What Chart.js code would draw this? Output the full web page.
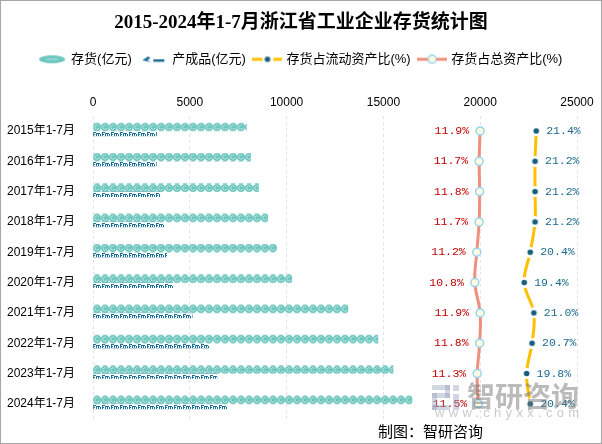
<!DOCTYPE html>
<html>
<head>
<meta charset="utf-8">
<title>2015-2024年1-7月浙江省工业企业存货统计图</title>
<script src="https://cdn.jsdelivr.net/npm/chart.js@4"></script>
<style>
    html, body { margin: 0; padding: 0; background: #fff; }
    #wrap { position: relative; width: 600px; height: 442px; border: 1px solid #A6A6A6; }
</style>
</head>
<body>
<div id="wrap"><canvas id="chartCanvas"></canvas></div>
<script>
// Chart data
const years = ["2015年1-7月", "2016年1-7月", "2017年1-7月", "2018年1-7月", "2019年1-7月",
    "2020年1-7月", "2021年1-7月", "2022年1-7月", "2023年1-7月", "2024年1-7月"];
const inventory = [7930, 8140, 8550, 9020, 9480, 10270, 13170, 14720, 15500, 16480];
const finishedGoods = [3280, 3270, 3450, 3670, 3800, 4140, 5120, 6000, 6410, 6950];
const currentRatio = [21.4, 21.2, 21.2, 21.2, 20.4, 19.4, 21.0, 20.7, 19.8, 20.4];
const totalRatio = [11.9, 11.7, 11.8, 11.7, 11.2, 10.8, 11.9, 11.8, 11.3, 11.5];
const xTicks = [0, 5000, 10000, 15000, 20000, 25000];

const legendNames = ["存货(亿元)", "产成品(亿元)", "存货占流动资产比(%)", "存货占总资产比(%)"];

const TEAL = '#6DC7BF';
const TEAL_LIGHT = '#B4E4DE';
const BLUE = '#1D6F98';
const YELLOW = '#FFC000';
const SALMON = '#EF8F7E';
const DOT = '#155E7C';

/**
 * @brief Creates a small canvas and hands its context to a painter.
 */
function makeTile(w, h, paint) {
    const c = document.createElement('canvas');
    c.width = w;
    c.height = h;
    paint(c.getContext('2d'));
    return c;
}

// Pattern tiles for the bars
const tealTile = makeTile(8, 8, g => {
    g.fillStyle = TEAL;
    g.beginPath();
    g.arc(4, 4, 4, 0, Math.PI * 2);
    g.fill();
    g.strokeStyle = TEAL_LIGHT;
    g.lineWidth = 1;
    g.beginPath();
    g.arc(4, 4, 2.2, 0.3, Math.PI * 1.7);
    g.stroke();
});

const goodsTile = makeTile(9, 6, g => {
    g.fillStyle = BLUE;
    g.fillRect(0, 1, 1, 4);
    g.fillRect(0, 1, 3, 1);
    g.fillRect(0, 3, 2, 1);
    g.fillRect(3, 2, 4, 1);
    g.fillRect(3, 2, 1, 3);
    g.fillRect(5, 2, 1, 3);
    g.fillRect(7, 3, 1, 2);
    g.fillStyle = '#6FA6C6';
    g.fillRect(0, 5, 8, 1);
});

// Point image for the current assets ratio line
const yellowDot = makeTile(11, 11, g => {
    g.fillStyle = '#fff';
    g.beginPath();
    g.arc(5.5, 5.5, 5.5, 0, Math.PI * 2);
    g.fill();
    g.fillStyle = DOT;
    g.beginPath();
    g.arc(5.5, 5.5, 2.8, 0, Math.PI * 2);
    g.fill();
});

// Legend icons
const legendIcons = [
    makeTile(28, 10, g => {
        g.fillStyle = TEAL;
        g.beginPath();
        g.ellipse(14, 5, 13, 4, 0, 0, Math.PI * 2);
        g.fill();
        g.strokeStyle = TEAL_LIGHT;
        g.lineWidth = 1;
        g.beginPath();
        g.moveTo(8, 5);
        g.lineTo(20, 5);
        g.stroke();
    }),
    makeTile(24, 8, g => {
        g.fillStyle = BLUE;
        g.beginPath();
        g.moveTo(1, 5);
        g.lineTo(7, 1);
        g.lineTo(9, 3);
        g.lineTo(6, 5);
        g.lineTo(10, 7);
        g.closePath();
        g.fill();
        g.fillRect(12, 4, 11, 2.5);
    }),
    makeTile(30, 10, g => {
        g.strokeStyle = YELLOW;
        g.lineWidth = 3;
        g.beginPath();
        g.moveTo(0, 5);
        g.lineTo(30, 5);
        g.stroke();
        g.drawImage(yellowDot, 9.5, -0.5);
    }),
    makeTile(30, 10, g => {
        g.strokeStyle = SALMON;
        g.lineWidth = 3;
        g.beginPath();
        g.moveTo(0, 5);
        g.lineTo(30, 5);
        g.stroke();
        g.fillStyle = '#FFFBE3';
        g.strokeStyle = '#97D5EE';
        g.lineWidth = 1.5;
        g.beginPath();
        g.arc(15, 5, 4, 0, Math.PI * 2);
        g.fill();
        g.stroke();
    })
];

/**
 * @brief Returns a pattern aligned to the top-left corner of the bar.
 */
function barPattern(c, tile, offset, fallback) {
    if (c.type !== 'data' || !c.chart.chartArea) {
        return fallback;
    }
    const yScale = c.chart.scales.y;
    const top = Math.round(yScale.getPixelForValue(c.dataIndex) + offset);
    const pattern = c.chart.ctx.createPattern(tile, 'repeat');
    pattern.setTransform(new DOMMatrix([1, 0, 0, 1, c.chart.chartArea.left, top]));
    return pattern;
}

// Value labels next to the line points
const valueLabels = {
    id: 'valueLabels',
    afterDatasetsDraw(chart) {
        const ctx = chart.ctx;
        ctx.save();
        ctx.font = '11.5px "Liberation Mono", monospace';
        ctx.textBaseline = 'middle';

        ctx.fillStyle = '#1C6A8C';
        ctx.textAlign = 'left';
        chart.getDatasetMeta(2).data.forEach((pt, i) => {
            ctx.fillText(currentRatio[i].toFixed(1) + '%', pt.x + 10, pt.y);
        });

        ctx.fillStyle = '#C00000';
        ctx.textAlign = 'right';
        chart.getDatasetMeta(3).data.forEach((pt, i) => {
            ctx.fillText(totalRatio[i].toFixed(1) + '%', pt.x - 11, pt.y);
        });
        ctx.restore();
    }
};

// Watermark and source note
const footer = {
    id: 'footer',
    afterDraw(chart) {
        const ctx = chart.ctx;
        ctx.save();

        ctx.fillStyle = 'rgba(150, 165, 190, 0.45)';
        ctx.fillRect(431, 384, 18, 5);
        ctx.fillRect(444, 384, 5, 13);
        ctx.fillRect(431, 392, 18, 5);
        ctx.fillRect(431, 392, 5, 17);
        ctx.fillRect(431, 404, 18, 5);
        ctx.fillRect(452, 384, 6, 6);
        ctx.fillRect(452, 393, 6, 16);

        ctx.fillStyle = 'rgba(120, 120, 120, 0.5)';
        ctx.font = 'bold 28px "Noto Sans CJK SC"';
        ctx.textBaseline = 'middle';
        ctx.textAlign = 'left';
        ctx.fillText('智研咨询', 466, 395);

        ctx.fillStyle = 'rgba(150, 150, 150, 0.5)';
        ctx.font = '13px "Liberation Sans", sans-serif';
        ctx.letterSpacing = '4.3px';
        ctx.fillText('www.chyxx.com', 434, 412);
        ctx.letterSpacing = '0px';

        ctx.fillStyle = '#000';
        ctx.font = '15px "Noto Sans CJK SC"';
        ctx.fillText('制图：智研咨询', 377, 430);
        ctx.restore();
    }
};

const ctx = document.getElementById("chartCanvas").getContext("2d");
const chart = new Chart(ctx, {
    data: {
        labels: years,
        datasets: [
            {
                type: 'bar',
                label: legendNames[0],
                data: inventory,
                xAxisID: 'x',
                barThickness: 8,
                backgroundColor: c => barPattern(c, tealTile, -8, TEAL),
                order: 3
            },
            {
                type: 'bar',
                label: legendNames[1],
                data: finishedGoods,
                xAxisID: 'x',
                barThickness: 5,
                backgroundColor: c => barPattern(c, goodsTile, 0, BLUE),
                order: 4
            },
            {
                type: 'line',
                label: legendNames[2],
                data: currentRatio,
                xAxisID: 'x2',
                borderColor: YELLOW,
                borderWidth: 3,
                tension: 0.4,
                pointStyle: yellowDot,
                pointRadius: 5,
                order: 1
            },
            {
                type: 'line',
                label: legendNames[3],
                data: totalRatio,
                xAxisID: 'x3',
                borderColor: SALMON,
                borderWidth: 3,
                tension: 0.4,
                pointRadius: 4,
                pointBackgroundColor: '#FFFBE3',
                pointBorderColor: '#97D5EE',
                pointBorderWidth: 1.5,
                order: 2
            }
        ]
    },
    options: {
        indexAxis: 'y',
        animation: false,
        responsive: true,
        maintainAspectRatio: false,
        devicePixelRatio: 1,
        layout: {
            padding: { left: 0, right: 0, top: 3, bottom: 24 }
        },
        plugins: {
            title: {
                display: true,
                text: '2015-2024年1-7月浙江省工业企业存货统计图',
                color: '#000',
                font: { family: '"Liberation Serif", "Noto Sans CJK SC"', size: 19, weight: 'bold' },
                padding: { top: 8, bottom: 9 }
            },
            legend: {
                position: 'top',
                labels: {
                    usePointStyle: true,
                    pointStyleWidth: 25,
                    padding: 9,
                    color: '#111',
                    font: { family: '"Liberation Sans", "Noto Sans CJK SC"', size: 13 },
                    generateLabels: () => legendNames.map((name, i) => ({
                        text: name,
                        pointStyle: legendIcons[i],
                        fillStyle: 'transparent',
                        strokeStyle: 'transparent',
                        lineWidth: 0,
                        hidden: false,
                        datasetIndex: i
                    }))
                },
                onClick: () => {}
            },
            tooltip: { enabled: false }
        },
        scales: {
            x: {
                position: 'top',
                min: 0,
                max: 25000,
                afterBuildTicks: scale => {
                    scale.ticks = xTicks.map(v => ({ value: v }));
                },
                afterFit: scale => {
                    scale.height = 40;
                },
                border: { display: false, dash: [3, 3] },
                grid: {
                    color: '#E4E4E4',
                    drawTicks: false
                },
                ticks: {
                    padding: 6,
                    color: '#000',
                    font: { family: '"Liberation Sans", sans-serif', size: 12 },
                    callback: v => String(v)
                }
            },
            x2: {
                display: false,
                min: -52.5,
                max: 28.2
            },
            x3: {
                display: false,
                min: -68.8,
                max: 32.1
            },
            y: {
                afterFit: scale => {
                    scale.width = 92;
                },
                border: { display: false },
                grid: { display: false },
                ticks: {
                    padding: 10,
                    color: '#000',
                    font: { family: '"Liberation Sans", "Noto Sans CJK SC"', size: 12 }
                }
            },
            // Empty right-hand axis that only reserves the right margin
            yPad: {
                type: 'category',
                position: 'right',
                afterFit: scale => {
                    scale.width = 24;
                },
                border: { display: false },
                grid: { display: false },
                ticks: { display: false }
            }
        }
    },
    plugins: [valueLabels, footer]
});
</script>
</body>
</html>
